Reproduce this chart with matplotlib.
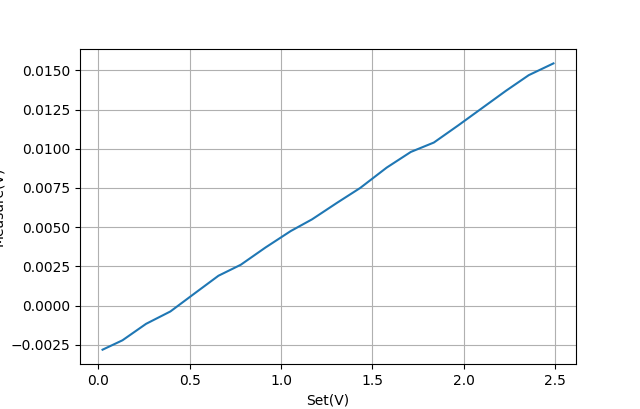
import matplotlib
matplotlib.use("Agg")
import matplotlib.pyplot as plt

set_v = [0.024, 0.133, 0.262, 0.395, 0.525, 0.658, 0.78, 0.915, 1.053, 1.17,
         1.306, 1.433, 1.578, 1.71, 1.836, 1.97, 2.1, 2.23, 2.355, 2.49]
measure_v = [-0.00282, -0.00222, -0.00117, -0.00038, 0.00075, 0.0019, 0.0026,
             0.0037, 0.00475, 0.0055, 0.00655, 0.0075, 0.0088, 0.0098, 0.0104,
             0.0115, 0.0126, 0.0137, 0.0147, 0.01545]

fig, ax = plt.subplots(figsize=(6.4, 4.09), dpi=100)
ax.plot(set_v, measure_v)
ax.set_xlabel("Set(V)")
ax.set_ylabel("Measure(V)")
ax.grid(True)
fig.savefig("out.png")
